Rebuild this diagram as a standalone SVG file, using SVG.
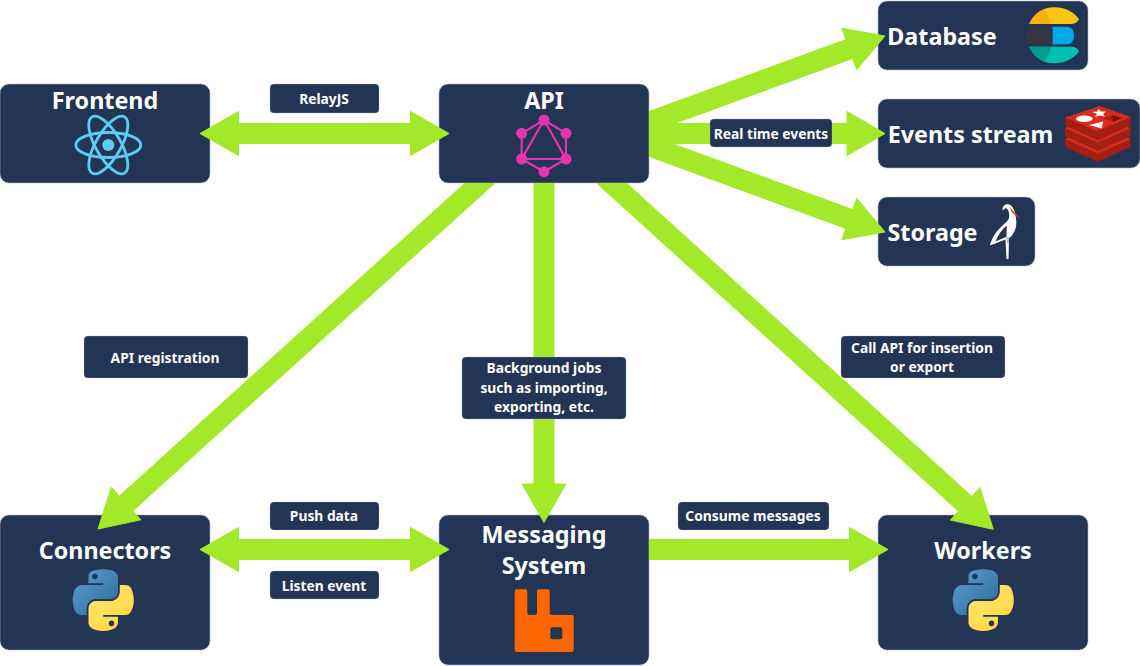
<svg xmlns="http://www.w3.org/2000/svg" width="1140" height="666" viewBox="0 0 1140 666">
<defs>
<style>
.box{fill:#223555;stroke:#a9b2c0;stroke-width:.6}
.lab{fill:#223555;stroke:#a9b2c0;stroke-width:.3}
.t{font-family:"Noto Sans","Liberation Sans",sans-serif;font-weight:700;fill:#fff;text-anchor:middle}
.h{font-size:23.300px}
.s{font-size:13.800px}
.ar{fill:#a3e829;stroke:#a3e829;stroke-width:1;stroke-linejoin:round}
</style>
<linearGradient id="pb" x1="0" y1="0" x2="1" y2="1"><stop offset="0" stop-color="#5a9fd4"/><stop offset="1" stop-color="#306998"/></linearGradient>
<linearGradient id="py" x1="0" y1="0" x2="1" y2="1"><stop offset="0" stop-color="#ffe873"/><stop offset="1" stop-color="#ffd43b"/></linearGradient>
<g id="python" transform="scale(.55)">
<path fill="url(#pb)" d="M54.9 0C50.3 0 46 .4 42.1 1.1 30.8 3.1 28.7 7.3 28.7 15V25.300H55.500V28.700H18.600C10.800 28.700 4 33.300 1.900 42.300-.6 52.500-.7 58.800 1.900 69.500 3.800 77.400 8.300 83 16.100 83H25.400V70.800C25.400 61.900 33 54.100 42.100 54.100H68.900C76.300 54.100 82.300 48 82.300 40.500V15C82.300 7.800 76.200 2.300 68.900 1.100 64.300.3 59.500 0 54.900 0ZM40.400 8.200C43.200 8.200 45.400 10.500 45.400 13.300 45.400 16.200 43.200 18.400 40.400 18.400 37.600 18.400 35.400 16.200 35.400 13.300 35.400 10.500 37.600 8.200 40.400 8.200Z"/>
<path fill="url(#py)" d="M85.600 28.700V40.600C85.600 49.800 77.800 57.600 68.900 57.600H42.100C34.800 57.600 28.700 63.800 28.700 71.200V96.700C28.700 103.900 35 108.200 42.100 110.300 50.600 112.800 58.800 113.200 68.900 110.300 75.600 108.300 82.300 104.400 82.300 96.700V86.400H55.500V83H95.700C103.500 83 106.400 77.600 109.100 69.500 111.900 61.200 111.800 53.200 109.100 42.300 107.200 34.400 103.500 28.700 95.700 28.700ZM70.600 93.300C73.400 93.300 75.600 95.600 75.600 98.400 75.600 101.200 73.400 103.500 70.600 103.500 67.800 103.500 65.500 101.200 65.500 98.400 65.500 95.600 67.800 93.300 70.600 93.300Z"/>
</g>
</defs>
<g id="frontend"><rect class="box" x="0" y="84" width="210" height="99" rx="9"/><text class="t h" x="105" y="108.500">Frontend</text>
<g fill="none" stroke="#5ccdf2" stroke-width="2.800"><ellipse cx="108.300" cy="145" rx="32.500" ry="12.500"/><ellipse cx="108.300" cy="145" rx="32.500" ry="12.500" transform="rotate(60 108.300 145)"/><ellipse cx="108.300" cy="145" rx="32.500" ry="12.500" transform="rotate(120 108.300 145)"/></g><circle cx="108.300" cy="145" r="6" fill="#5ccdf2"/></g>
<g id="api"><rect class="box" x="439" y="84" width="210" height="99" rx="9"/><text class="t h" x="544" y="109">API</text>
<g fill="none" stroke="#e535ab" stroke-width="2.200"><polygon points="544,120 566,133.300 566,159 544,171.700 521.700,159 521.700,133.300"/><polygon points="544,120 566,159 521.700,159"/></g><g fill="#e535ab"><circle cx="544" cy="120" r="5.500"/><circle cx="566" cy="133.300" r="5.500"/><circle cx="566" cy="159" r="5.500"/><circle cx="544" cy="171.700" r="5.500"/><circle cx="521.700" cy="159" r="5.500"/><circle cx="521.700" cy="133.300" r="5.500"/></g></g>
<g id="database"><rect class="box" x="878" y="1" width="210" height="69" rx="9"/><text class="t h" x="942" y="45">Database</text>
<path fill="#fec514" d="M1029.300 24C1034 13 1043 7.300 1054 7.300 1065 7.300 1074 12 1079 19.300 1077 22.500 1075 24 1071 24Z"/>
<path fill="#f9b110" d="M1029.300 24C1032.500 16.500 1038 11.500 1044 9.500 1048 14 1050 19 1050.500 24Z"/>
<path fill="#343741" d="M1029 26.700H1052.300C1053 32 1053 39 1052.300 44.300H1029C1026.700 39 1026.700 32 1029 26.700Z"/>
<path fill="#00a9e5" d="M1052.300 26.700H1067C1071.500 26.700 1074 30 1074 35.500 1074 41 1071.500 44.300 1067 44.300H1052.300C1053 39 1053 32 1052.300 26.700Z"/>
<path fill="#00bfb3" d="M1029.300 46.700H1071C1075 46.700 1077 48 1079 51.500 1074 58.500 1065 63.300 1054 63.300 1043 63.300 1034 57.500 1029.300 46.700Z"/>
<path fill="#019b8f" d="M1029.300 46.700H1050.500C1050 52 1048 57 1044 61 1038 59 1032.500 54 1029.300 46.700Z"/></g>
<g id="events"><rect class="box" x="878" y="99" width="262" height="69" rx="9"/><text class="t h" x="970.500" y="143.300">Events stream</text>
<path fill="#a41e11" d="M1065 139V147L1098 161.700 1130.700 147V139Z"/>
<path fill="#d82c20" d="M1065 139 1098 125 1130.700 139 1098 153.500Z"/>
<path fill="#a41e11" d="M1065 128V136L1098 151 1130.700 136V128Z"/>
<path fill="#d82c20" d="M1065 128 1098 114 1130.700 128 1098 142.500Z"/>
<path fill="#a41e11" d="M1065 117.500V125.500L1098 140.500 1130.700 125.500V117.500Z"/>
<path fill="#d82c20" d="M1065 117.500 1100 106 1130.700 117 1097 131Z"/>
<ellipse cx="1084.300" cy="118.700" rx="8.300" ry="3.200" fill="#fff"/>
<polygon fill="#fff" points="1098.500,109 1101,111.500 1106,111.500 1103,114 1105,116.500 1100,115.500 1095,117 1097,114 1092,112 1097,111.500"/>
<polygon fill="#fff" points="1089,125 1103,121.500 1102,128.500"/>
<polygon fill="#7a0c00" points="1112,115 1122,118 1113,122"/>
<polygon fill="#ad2115" points="1102,118.500 1112,115 1113,122"/></g>
<g id="storage"><rect class="box" x="878" y="197" width="157" height="69" rx="9"/><text class="t h" x="932.500" y="240.700">Storage</text>
<path fill="#fff" d="M1002.500 209.500C1002.500 205.500 1006 203.500 1009 204.500 1012 205.500 1014 208.500 1015 213 1016.500 219 1017 225 1015 230 1013.500 234 1011 237 1009 238.500L1008.500 259H1006.500L1005.500 239.500 990 245.500C991 240 995 233 1000 228 1003 225 1006 222.500 1008 220 1010.500 216.500 1009 210 1006.500 208.500 1005 207.700 1004 208.500 1004 210Z"/>
<path fill="#223555" d="M1006.800 225.500C1002 229.500 998 235 995.500 241.500L1006.500 236.700Z"/>
<path fill="#b8bcc4" d="M1006.500 237H1009V243H1006.800Z"/>
<path fill="#e5521f" d="M1009.500 206.500 1020 219 1012 212.500Z"/></g>
<g id="connectors-node"><rect class="box" x="0" y="515" width="210" height="135" rx="9"/><text class="t h" x="105" y="558.500">Connectors</text><use href="#python" transform="translate(72.700 569.300)"/></g>
<g id="messaging"><rect class="box" x="439" y="515" width="210" height="150" rx="9"/><text class="t h" x="544" y="542.500">Messaging</text><text class="t h" x="544" y="574">System</text>
<path fill="#f60" fill-rule="evenodd" d="M516.700 589.300H525.300Q527.300 589.300 527.300 591.300V613Q527.300 615 529.300 615H535Q537 615 537 613V591.300Q537 589.300 539 589.300H547.700Q549.700 589.300 549.700 591.300V613Q549.700 615 551.700 615H572.700Q573.700 615 573.700 616V650Q573.700 652 571.700 652H516.700Q514.700 652 514.700 650V591.300Q514.700 589.300 516.700 589.300ZM552.300 627.300Q550.300 627.300 550.300 629.300V637.300Q550.300 639.300 552.300 639.300H560.300Q562.300 639.300 562.300 637.300V629.300Q562.300 627.300 560.300 627.300Z"/></g>
<g id="workers"><rect class="box" x="878" y="515" width="210" height="135" rx="9"/><text class="t h" x="983" y="558.500">Workers</text><use href="#python" transform="translate(952.700 569.300)"/></g>
<g id="connectors">
<polygon class="ar" points="200,133.500 238.500,111.500 238.500,123.500 410.500,123.500 410.500,111.500 449,133.500 410.500,155.500 410.500,143.500 238.500,143.500 238.500,155.500"/>
<polygon class="ar" points="200,549.500 238.500,527.500 238.500,539.500 410.500,539.500 410.500,527.500 449,549.500 410.500,571.500 410.500,559.500 238.500,559.500 238.500,571.500"/>
<polygon class="ar" points="649.500,111.400 845.900,39.600 841.800,28.300 885,36 856.800,69.700 852.700,58.400 649.500,132.600"/>
<polygon class="ar" points="649.500,123.500 847,123.500 847,111.500 885,133.500 847,155.500 847,143.500 649.500,143.500"/>
<polygon class="ar" points="649.500,156.600 845.900,228.400 841.800,239.700 885,232 856.800,198.300 852.700,209.600 649.500,135.400"/>
<polygon class="ar" points="534,183.500 554,183.500 554,484 566,484 544,522.500 522,484 534,484"/>
<polygon class="ar" points="464.600,183.500 494.400,183.500 132.800,510.900 140.900,519.800 98,529 111.300,487.200 119.400,496.100"/>
<polygon class="ar" points="597.100,183.500 626.900,183.500 971.900,496.400 980,487.500 993.300,529.300 950.400,520.100 958.500,511.200"/>
<polygon class="ar" points="649.500,539.500 849.500,539.500 849.500,527.500 888,549.500 849.500,571.500 849.500,559.500 649.500,559.500"/>
</g>
<g id="labels">
<rect class="lab" x="270" y="84" width="109" height="29" rx="4"/><text class="t s" x="324" y="104">RelayJS</text>
<rect class="lab" x="710" y="119" width="122" height="28" rx="4"/><text class="t s" x="771" y="138.500">Real time events</text>
<rect class="lab" x="84" y="336" width="164" height="42" rx="4"/><text class="t s" x="165" y="363">API registration</text>
<rect class="lab" x="462" y="357" width="164" height="62" rx="4"/><text class="t s" x="544" y="373">Background jobs</text><text class="t s" x="544" y="393">such as importing,</text><text class="t s" x="544" y="412">exporting, etc.</text>
<rect class="lab" x="841" y="336" width="164" height="42" rx="4"/><text class="t s" x="922" y="353">Call API for insertion</text><text class="t s" x="922" y="372">or export</text>
<rect class="lab" x="270" y="502" width="109" height="28" rx="4"/><text class="t s" x="324" y="521">Push data</text>
<rect class="lab" x="270" y="571" width="109" height="28" rx="4"/><text class="t s" x="324" y="591">Listen event</text>
<rect class="lab" x="678" y="502" width="151" height="28" rx="4"/><text class="t s" x="753" y="521">Consume messages</text>
</g>
</svg>
